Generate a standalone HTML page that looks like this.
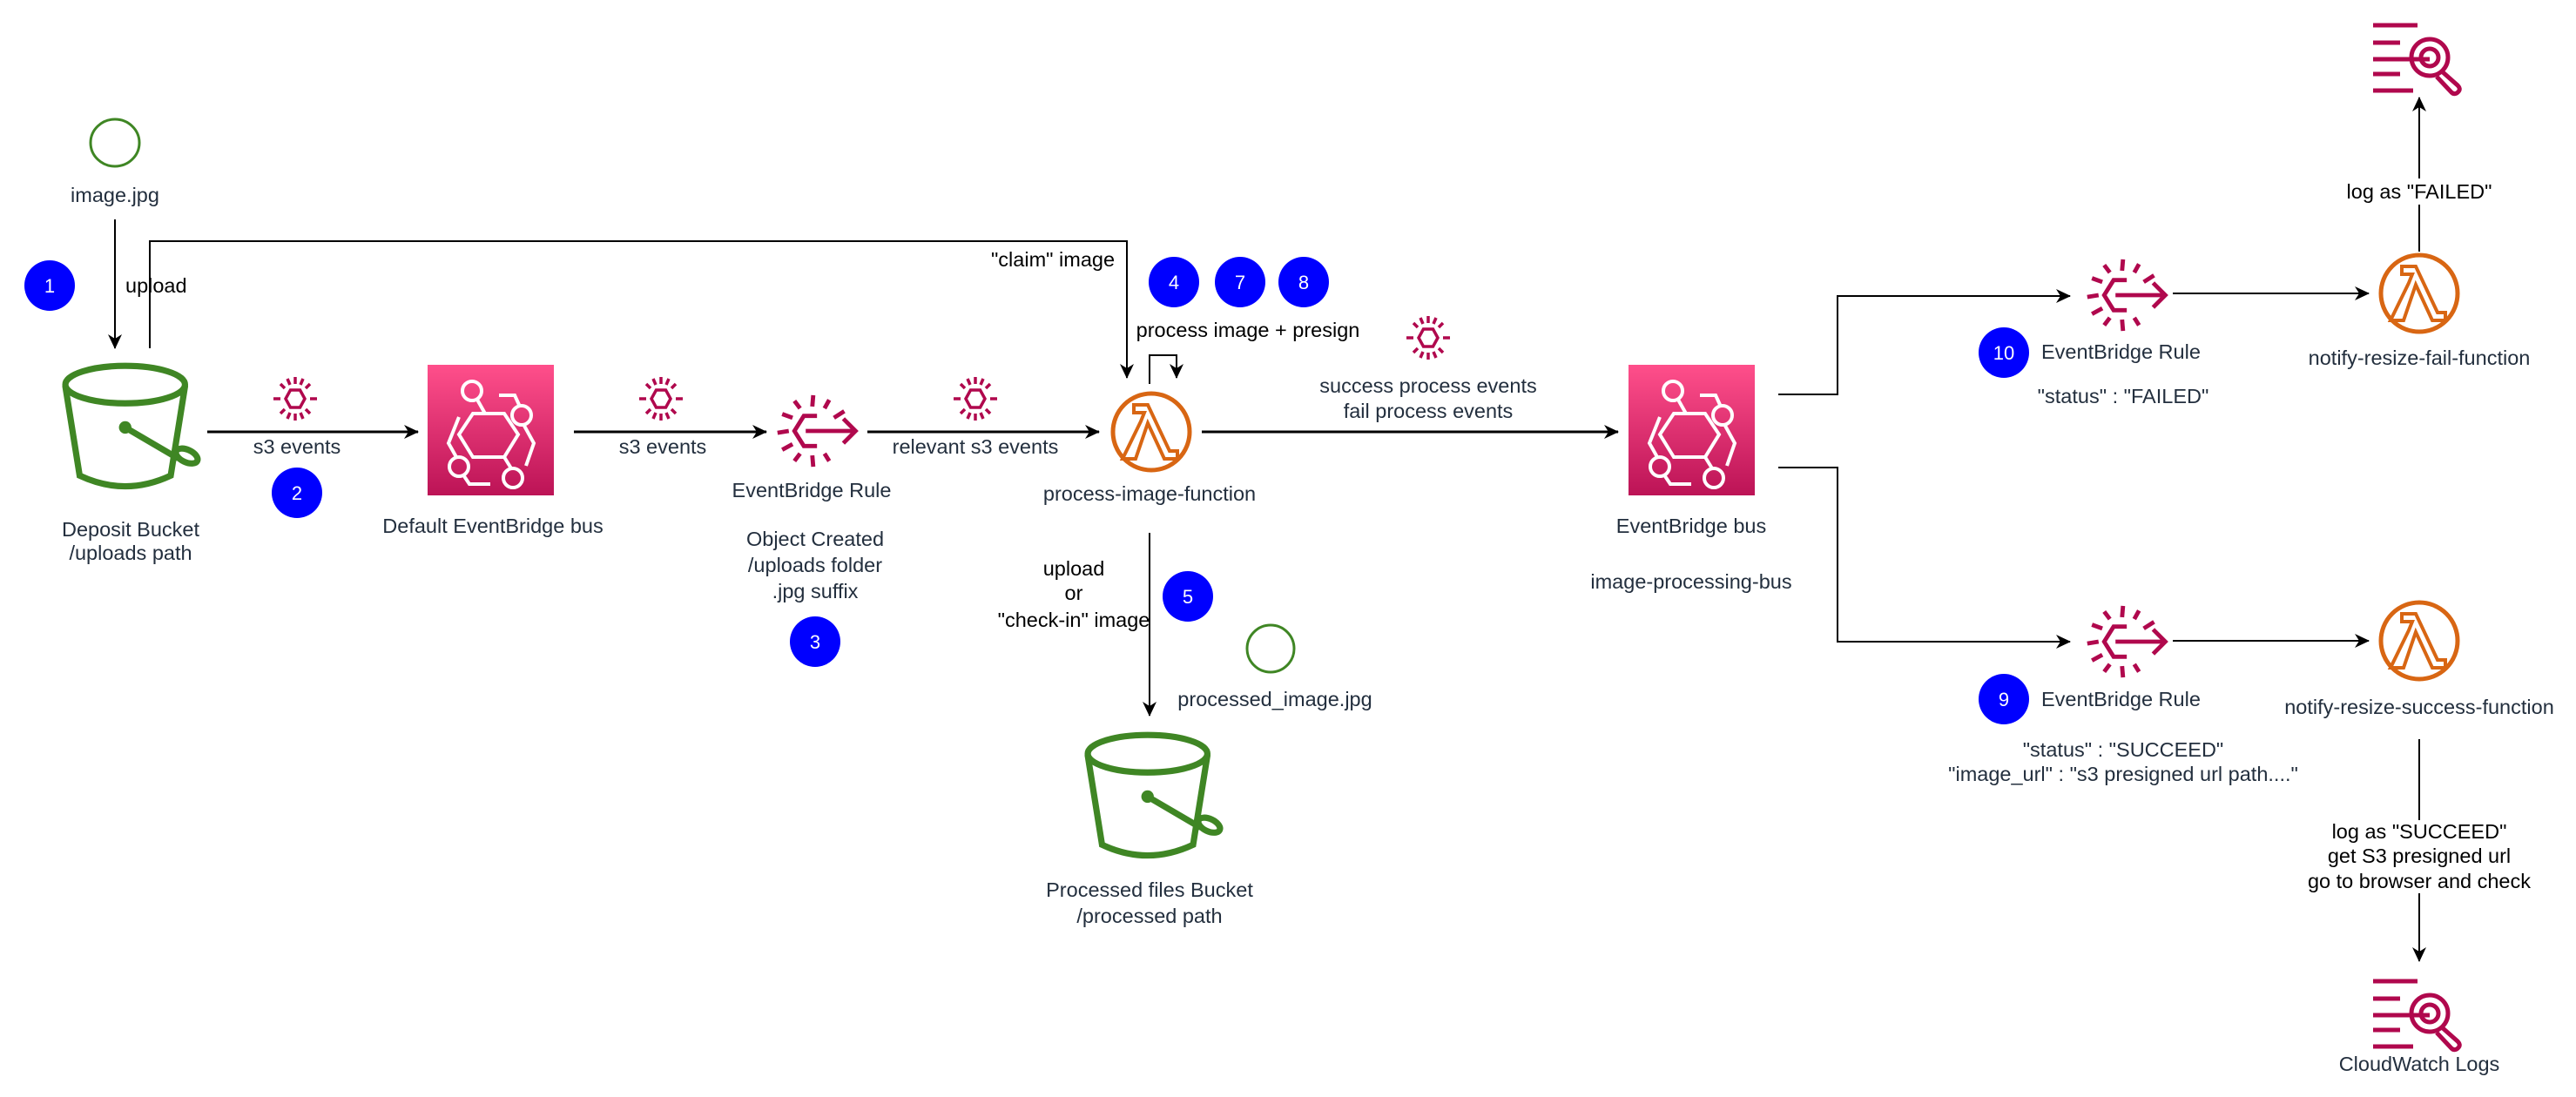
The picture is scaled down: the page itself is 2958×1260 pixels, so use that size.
<!DOCTYPE html>
<html><head><meta charset="utf-8"><style>
html,body{margin:0;padding:0;background:#fff;}
svg{display:block;}
text{font-family:"Liberation Sans",Arial,sans-serif;font-size:23.5px;fill:#232F3E;}
.k{fill:#000;}
.b{fill:#fff;font-size:22px;}
</style></head><body>
<svg width="2958" height="1260" viewBox="0 0 2958 1260" xmlns="http://www.w3.org/2000/svg">
<defs>
<marker id="ar2" markerWidth="18" markerHeight="18" refX="16" refY="9" orient="auto" markerUnits="userSpaceOnUse" viewBox="0 0 18 18">
<path d="M0,1 L17,9 L0,17 L5,9 Z" fill="#000"/></marker>
<linearGradient id="pg" x1="0" y1="0" x2="0" y2="1"><stop offset="0" stop-color="#FF4F8B"/><stop offset="1" stop-color="#BC1356"/></linearGradient>
<symbol id="lam" viewBox="-50 -50 100 100" overflow="visible">
<circle cx="0" cy="0" r="44" fill="none" stroke="#D86613" stroke-width="5"/>
<path d="M-20,-31 L-4,-31 L21,22 L30,22 L30,31 L15,31 L-4,-10 L-18,31 L-33,31 L-12,-12 L-8,-22 L-20,-22 Z" fill="none" stroke="#D86613" stroke-width="4" stroke-linejoin="miter"/>
</symbol>
<symbol id="bkt" viewBox="0 0 160 150" overflow="visible">
<g fill="none" stroke="#3F8624" stroke-width="7" stroke-linecap="round">
<ellipse cx="70" cy="24" rx="67" ry="21"/>
<path d="M3,26 L19,126 Q70,150 121,126 L137,26"/>
<path d="M70,72 L128,106"/>
<ellipse cx="139" cy="104" rx="13" ry="7" transform="rotate(25 139 104)"/>
</g>
<circle cx="70" cy="72" r="7" fill="#3F8624"/>
</symbol>
<symbol id="ev" viewBox="-30 -30 60 60" overflow="visible">
<g stroke="#B0084D" stroke-width="3.5" fill="none">
<polygon points="-11,0 -5.5,-10 5.5,-10 11,0 5.5,10 -5.5,10"/>
<line x1="0" y1="-17" x2="0" y2="-25"/><line x1="0" y1="17" x2="0" y2="25"/>
<line x1="-17" y1="0" x2="-25" y2="0"/><line x1="17" y1="0" x2="25" y2="0"/>
<line x1="-12" y1="-12" x2="-17" y2="-17"/><line x1="12" y1="-12" x2="17" y2="-17"/>
<line x1="-12" y1="12" x2="-17" y2="17"/><line x1="12" y1="12" x2="17" y2="17"/>
<line x1="-6" y1="-16" x2="-9" y2="-23"/><line x1="6" y1="-16" x2="9" y2="-23"/>
<line x1="-6" y1="16" x2="-9" y2="23"/><line x1="6" y1="16" x2="9" y2="23"/>
</g>
</symbol>
<symbol id="rule" viewBox="-50 -50 100 100" overflow="visible">
<g stroke="#B0084D" stroke-width="4.5" fill="none">
<path d="M2,-16 L-12,-16 L-22,0 L-12,16 L2,16"/>
<line x1="-10" y1="0" x2="42" y2="0"/>
<path d="M30,-13 L43,0 L30,13"/>
<line x1="-3" y1="-26" x2="-2" y2="-38"/><line x1="-3" y1="26" x2="-2" y2="38"/>
<line x1="-28" y1="0" x2="-40" y2="2"/>
<line x1="-24" y1="-14" x2="-35" y2="-18"/><line x1="-24" y1="14" x2="-35" y2="20"/>
<line x1="-16" y1="-24" x2="-22" y2="-32"/><line x1="-16" y1="24" x2="-22" y2="32"/>
<line x1="10" y1="-24" x2="15" y2="-33"/><line x1="10" y1="24" x2="15" y2="32"/>
<line x1="20" y1="-14" x2="31" y2="-21"/>
</g>
</symbol>
<symbol id="bus" viewBox="0 0 145 150" overflow="visible">
<rect x="0" y="0" width="145" height="150" fill="url(#pg)"/>
<g stroke="#fff" stroke-width="4" fill="none">
<polygon points="52,56 88,56 104,80 88,106 52,106 36,80"/>
<circle cx="51" cy="30" r="11"/>
<path d="M57,40 L66,56"/>
<path d="M82,35 L100,35 L106,48"/>
<circle cx="108" cy="58" r="11"/>
<path d="M111,70 L122,90 L113,116"/>
<circle cx="36" cy="117" r="11"/>
<path d="M33,106 L24,90 L36,60"/>
<path d="M42,128 L48,137 L72,137"/>
<circle cx="98" cy="130" r="11"/>
<path d="M96,119 L88,106"/>
</g>
</symbol>
<symbol id="cw" viewBox="0 0 120 110" overflow="visible">
<g stroke="#B0084D" stroke-width="5" fill="none">
<line x1="25" y1="23" x2="76" y2="23"/>
<line x1="25" y1="43" x2="56" y2="43"/>
<line x1="25" y1="62" x2="90" y2="62"/>
<line x1="25" y1="79" x2="56" y2="79"/>
<line x1="25" y1="98" x2="71" y2="98"/>
<circle cx="90" cy="60" r="21"/>
<circle cx="90" cy="60" r="10"/>
<path d="M104,76 L122,92 Q127,97 121,101 Q117,103 114,99 L98,82"/>
</g>
</symbol>
</defs>

<ellipse cx="132" cy="164" rx="28" ry="27" fill="none" stroke="#3F8624" stroke-width="3"/>
<text x="132" y="232" text-anchor="middle">image.jpg</text>
<line x1="132" y1="252" x2="132" y2="400" stroke="#000" stroke-width="2" marker-end="url(#ar2)"/>
<rect x="140" y="312" width="50" height="30" fill="#fff"/>
<text x="144" y="336" class="k">upload</text>
<circle cx="57" cy="328" r="29" fill="#0000FF"/><text x="57" y="336" text-anchor="middle" class="b">1</text>

<use href="#bkt" x="72" y="417" width="164" height="154"/>
<text x="150" y="616" text-anchor="middle">Deposit Bucket</text>
<text x="150" y="643" text-anchor="middle">/uploads path</text>

<polyline points="172,400 172,277 1294,277 1294,434" fill="none" stroke="#000" stroke-width="2" marker-end="url(#ar2)"/>
<text x="1209" y="306" text-anchor="middle" class="k">"claim" image</text>

<line x1="238" y1="496" x2="480" y2="496" stroke="#000" stroke-width="3" marker-end="url(#ar2)"/>
<use href="#ev" x="309" y="428" width="60" height="60"/>
<text x="341" y="521" text-anchor="middle">s3 events</text>
<circle cx="341" cy="566" r="29" fill="#0000FF"/><text x="341" y="574" text-anchor="middle" class="b">2</text>

<use href="#bus" x="491" y="419" width="145" height="150"/>
<text x="566" y="612" text-anchor="middle">Default EventBridge bus</text>

<line x1="659" y1="496" x2="880" y2="496" stroke="#000" stroke-width="3" marker-end="url(#ar2)"/>
<use href="#ev" x="729" y="428" width="60" height="60"/>
<text x="761" y="521" text-anchor="middle">s3 events</text>

<use href="#rule" x="882" y="441" width="108" height="108"/>
<text x="932" y="571" text-anchor="middle">EventBridge Rule</text>
<text x="936" y="627" text-anchor="middle">Object Created</text>
<text x="936" y="657" text-anchor="middle">/uploads folder</text>
<text x="936" y="687" text-anchor="middle">.jpg suffix</text>
<circle cx="936" cy="737" r="29" fill="#0000FF"/><text x="936" y="745" text-anchor="middle" class="b">3</text>

<line x1="996" y1="496" x2="1262" y2="496" stroke="#000" stroke-width="3" marker-end="url(#ar2)"/>
<use href="#ev" x="1090" y="428" width="60" height="60"/>
<text x="1120" y="521" text-anchor="middle">relevant s3 events</text>

<use href="#lam" x="1272" y="446" width="100" height="100"/>
<text x="1320" y="575" text-anchor="middle">process-image-function</text>
<polyline points="1320,441 1320,408 1351,408 1351,434" fill="none" stroke="#000" stroke-width="2" marker-end="url(#ar2)"/>
<text x="1433" y="387" text-anchor="middle" class="k">process image + presign</text>
<circle cx="1348" cy="324" r="29" fill="#0000FF"/><text x="1348" y="332" text-anchor="middle" class="b">4</text>
<circle cx="1424" cy="324" r="29" fill="#0000FF"/><text x="1424" y="332" text-anchor="middle" class="b">7</text>
<circle cx="1497" cy="324" r="29" fill="#0000FF"/><text x="1497" y="332" text-anchor="middle" class="b">8</text>

<line x1="1380" y1="496" x2="1858" y2="496" stroke="#000" stroke-width="3" marker-end="url(#ar2)"/>
<use href="#ev" x="1610" y="358" width="60" height="60"/>
<text x="1640" y="451" text-anchor="middle">success process events</text>
<text x="1640" y="480" text-anchor="middle">fail process events</text>

<use href="#bus" x="1870" y="419" width="145" height="150"/>
<text x="1942" y="612" text-anchor="middle">EventBridge bus</text>
<text x="1942" y="676" text-anchor="middle">image-processing-bus</text>

<line x1="1320" y1="612" x2="1320" y2="822" stroke="#000" stroke-width="2" marker-end="url(#ar2)"/>
<text x="1233" y="661" text-anchor="middle" class="k">upload</text>
<text x="1233" y="689" text-anchor="middle" class="k">or</text>
<text x="1233" y="720" text-anchor="middle" class="k">"check-in" image</text>
<circle cx="1364" cy="685" r="29" fill="#0000FF"/><text x="1364" y="693" text-anchor="middle" class="b">5</text>
<ellipse cx="1459" cy="745" rx="27" ry="27" fill="none" stroke="#3F8624" stroke-width="3"/>
<text x="1464" y="811" text-anchor="middle">processed_image.jpg</text>
<use href="#bkt" x="1246" y="841" width="164" height="154"/>
<text x="1320" y="1030" text-anchor="middle">Processed files Bucket</text>
<text x="1320" y="1060" text-anchor="middle">/processed path</text>

<polyline points="2042,453 2110,453 2110,340 2377,340" fill="none" stroke="#000" stroke-width="2" marker-end="url(#ar2)"/>
<polyline points="2042,537 2110,537 2110,737 2377,737" fill="none" stroke="#000" stroke-width="2" marker-end="url(#ar2)"/>
<use href="#rule" x="2386" y="285" width="108" height="108"/>
<use href="#rule" x="2386" y="683" width="108" height="108"/>
<line x1="2495" y1="337" x2="2720" y2="337" stroke="#000" stroke-width="2" marker-end="url(#ar2)"/>
<line x1="2495" y1="736" x2="2720" y2="736" stroke="#000" stroke-width="2" marker-end="url(#ar2)"/>
<use href="#lam" x="2728" y="287" width="100" height="100"/>
<use href="#lam" x="2728" y="686" width="100" height="100"/>

<circle cx="2301" cy="405" r="29" fill="#0000FF"/><text x="2301" y="413" text-anchor="middle" class="b">10</text>
<text x="2344" y="412">EventBridge Rule</text>
<text x="2438" y="463" text-anchor="middle">"status" : "FAILED"</text>
<text x="2778" y="419" text-anchor="middle">notify-resize-fail-function</text>

<circle cx="2301" cy="803" r="29" fill="#0000FF"/><text x="2301" y="811" text-anchor="middle" class="b">9</text>
<text x="2344" y="811">EventBridge Rule</text>
<text x="2438" y="869" text-anchor="middle">"status" : "SUCCEED"</text>
<text x="2438" y="897" text-anchor="middle">"image_url" : "s3 presigned url path...."</text>
<text x="2778" y="820" text-anchor="middle">notify-resize-success-function</text>

<line x1="2778" y1="289" x2="2778" y2="112" stroke="#000" stroke-width="2" marker-end="url(#ar2)"/>
<rect x="2690" y="205" width="180" height="30" fill="#fff"/>
<text x="2778" y="228" text-anchor="middle" class="k">log as "FAILED"</text>
<use href="#cw" x="2700" y="6" width="120" height="110"/>

<line x1="2778" y1="849" x2="2778" y2="1104" stroke="#000" stroke-width="2" marker-end="url(#ar2)"/>
<rect x="2650" y="942" width="256" height="84" fill="#fff"/>
<text x="2778" y="963" text-anchor="middle" class="k">log as "SUCCEED"</text>
<text x="2778" y="991" text-anchor="middle" class="k">get S3 presigned url</text>
<text x="2778" y="1020" text-anchor="middle" class="k">go to browser and check</text>
<use href="#cw" x="2700" y="1104" width="120" height="110"/>
<text x="2778" y="1230" text-anchor="middle">CloudWatch Logs</text>
</svg>
</body></html>
